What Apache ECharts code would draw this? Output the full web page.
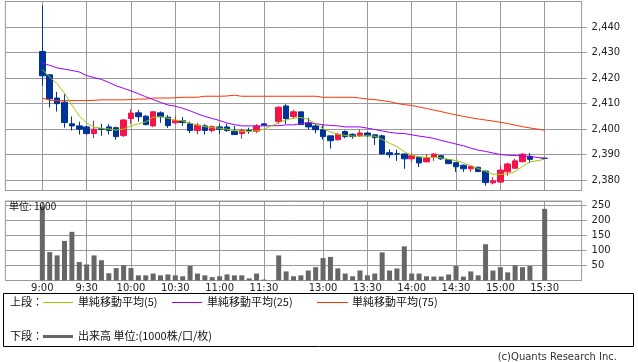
<!DOCTYPE html>
<html><head><meta charset="utf-8">
<script src="https://cdn.jsdelivr.net/npm/echarts@6/dist/echarts.min.js"></script>
<style>html,body{margin:0;padding:0;background:#fff}#c{width:638px;height:362px}</style>
</head><body><div id="c"></div>
<script>
// 5-minute slots, 9:00 .. 15:30 (lunch break shown as one empty slot)
const times = ['9:00','9:05','9:10','9:15','9:20','9:25','9:30','9:35','9:40','9:45','9:50','9:55',
 '10:00','10:05','10:10','10:15','10:20','10:25','10:30','10:35','10:40','10:45','10:50','10:55',
 '11:00','11:05','11:10','11:15','11:20','11:25','11:30','lunch',
 '12:30','12:35','12:40','12:45','12:50','12:55',
 '13:00','13:05','13:10','13:15','13:20','13:25','13:30','13:35','13:40','13:45','13:50','13:55',
 '14:00','14:05','14:10','14:15','14:20','14:25','14:30','14:35','14:40','14:45','14:50','14:55',
 '15:00','15:05','15:10','15:15','15:20','15:25','15:30'];
const open  = [2430.4,2421.3,2412.2,2410.6,2402.1,2401.3,2400.9,2398.3,2400.2,2400.9,2400.6,2397.5,
 2404.2,2406.4,2405.1,2401.3,2406.4,2404.7,2402.5,2403.3,2402.1,2399.5,2401.3,2399.5,
 2400.9,2400.9,2399.2,2398.3,2399.5,2399.2,2402.1,null,
 2403.0,2409.1,2405.0,2406.8,2402.5,2401.3,
 2399.8,2397.4,2395.9,2399.1,2398.0,2397.4,2398.5,2397.8,2397.4,2390.8,2390.4,2390.3,
 2388.4,2389.0,2387.2,2389.1,2389.6,2388.1,2386.9,2385.9,2384.5,2385.1,2383.6,2379.0,
 2379.3,2383.3,2384.7,2387.3,2389.4,null,2388.6];
const close = [2420.9,2411.9,2410.0,2402.6,2401.3,2400.0,2398.3,2400.0,2400.0,2399.5,2397.1,2403.6,
 2406.3,2404.9,2401.8,2406.8,2404.9,2401.4,2403.3,2402.6,2399.5,2401.6,2399.5,2401.0,
 2400.0,2399.5,2397.9,2399.5,2399.2,2401.2,2401.6,null,
 2408.6,2404.2,2406.8,2401.8,2400.9,2399.8,
 2397.1,2395.5,2398.0,2397.1,2397.1,2398.5,2397.4,2396.7,2390.3,2390.0,2390.3,2388.4,
 2389.6,2386.8,2388.7,2390.3,2388.4,2386.5,2385.3,2384.5,2385.5,2383.4,2379.1,2379.7,
 2384.0,2386.4,2387.6,2390.2,2388.2,null,2388.6];
const low   = [2417.0,2408.5,2406.9,2400.6,2399.5,2397.9,2397.8,2396.5,2397.4,2397.9,2395.9,2397.0,
 2402.1,2403.0,2401.5,2400.8,2402.5,2400.5,2402.0,2401.3,2398.4,2398.0,2397.9,2398.8,
 2398.2,2399.0,2397.8,2396.3,2398.2,2398.4,2401.6,null,
 2402.1,2402.1,2404.0,2401.8,2399.8,2398.4,
 2395.9,2392.4,2395.5,2396.5,2396.3,2397.1,2396.9,2393.8,2390.0,2388.8,2387.6,2384.5,
 2387.2,2385.2,2387.2,2387.6,2388.0,2386.5,2383.3,2383.3,2383.3,2383.2,2377.9,2378.4,
 2379.0,2381.7,2384.5,2387.0,2386.7,null,2388.6];
const high  = [2448.4,2421.3,2414.6,2413.7,2405.0,2402.9,2401.3,2403.3,2402.1,2402.0,2401.0,2404.0,
 2407.8,2407.6,2405.5,2407.0,2407.0,2405.5,2405.0,2404.8,2403.0,2402.5,2402.0,2401.5,
 2402.1,2402.1,2401.3,2400.2,2400.6,2402.0,2402.1,null,
 2409.0,2409.8,2407.6,2406.8,2404.5,2402.0,
 2401.5,2397.4,2398.6,2399.5,2398.4,2399.9,2398.9,2398.0,2397.8,2392.1,2392.0,2390.5,
 2390.5,2389.3,2390.3,2390.6,2389.8,2388.1,2386.9,2386.2,2385.8,2385.4,2383.8,2381.2,
 2385.7,2386.9,2388.5,2390.7,2390.7,null,2388.6];
const ma5   = [2423.3,2420.4,2417.8,2414.1,2409.5,2405.2,2402.4,2400.8,2400.4,2400.1,2399.7,2400.0,
 2401.3,2402.1,2402.9,2404.7,2404.9,2404.3,2403.6,2403.3,2402.4,2401.6,2401.0,2400.6,
 2400.4,2400.0,2399.5,2399.2,2399.1,2399.3,2400.0,null,
 2402.6,2403.6,2404.3,2404.6,2403.8,2402.2,
 2400.2,2398.9,2398.0,2397.6,2397.3,2397.3,2397.4,2397.3,2396.0,2394.5,2393.2,2391.2,
 2389.8,2389.2,2389.0,2388.9,2388.8,2388.2,2387.7,2386.9,2385.7,2384.6,2383.5,2382.4,
 2382.3,2382.5,2383.4,2385.4,2387.2,null,2388.2];
const ma25  = [2425.9,2425.0,2424.0,2423.5,2423.0,2422.4,2421.0,2420.2,2419.5,2418.3,2417.0,2416.0,
 2415.0,2413.9,2412.7,2411.6,2410.5,2409.5,2409.0,2408.2,2407.2,2406.0,2405.0,2404.2,
 2403.4,2402.4,2401.8,2401.3,2401.3,2401.3,2401.3,null,
 2401.4,2401.7,2401.7,2402.2,2402.4,2402.2,
 2401.7,2401.5,2401.3,2400.9,2400.9,2400.9,2400.4,2399.9,2399.3,2398.8,2398.4,2398.3,
 2397.8,2397.3,2396.9,2396.4,2395.6,2394.9,2394.2,2393.5,2392.6,2391.8,2391.3,2390.7,
 2390.1,2389.8,2389.7,2389.5,2389.3,null,2388.6];
const ma75  = [2412.2,2411.3,2411.2,2411.2,2411.2,2411.2,2411.2,2411.3,2411.5,2411.5,2411.5,2411.5,
 2411.6,2411.8,2411.8,2412.2,2412.2,2412.2,2412.3,2412.5,2412.5,2412.5,2412.9,2412.9,
 2412.9,2413.0,2413.3,2412.9,2412.9,2412.9,2412.9,null,
 2412.9,2412.9,2412.9,2412.9,2412.9,2412.9,
 2412.5,2412.5,2412.5,2412.5,2412.5,2412.2,2411.8,2411.6,2411.2,2410.8,2410.1,2409.6,
 2409.3,2408.7,2408.1,2407.5,2406.9,2406.2,2405.6,2405.0,2404.5,2404.0,2403.6,2403.2,
 2402.7,2402.2,2401.6,2401.0,2400.5,null,2399.6];
const volume = [245,94,83,131,161,61,53,83,67,24,41,50,
 41,17,17,23,17,20,17,14,48,23,17,11,
 14,20,17,17,7,23,3,null,
 83,30,14,17,33,44,
 74,78,40,23,14,33,17,23,93,33,40,113,
 23,23,14,13,13,20,48,13,30,17,120,33,
 44,27,50,44,48,null,237];
const tickLabels = ['9:00','9:30','10:00','10:30','11:00','11:30','13:00','13:30','14:00','14:30','15:00','15:30'];
const priceRange = [2376, 2450];
const volumeRange = [0, 263];

const PAD_L = 5, PAD_R = 5;
const cats = [];
for (let i = 0; i < PAD_L; i++) cats.push('pl' + i);
times.forEach(t => cats.push(t));
for (let i = 0; i < PAD_R; i++) cats.push('pr' + i);
function padded(arr, empty) {
  const out = [];
  for (let i = 0; i < PAD_L; i++) out.push(empty);
  arr.forEach(v => out.push(v));
  for (let i = 0; i < PAD_R; i++) out.push(empty);
  return out;
}
const candleData = padded(times.map((t, i) => open[i] == null ? ['-','-','-','-'] : [open[i], close[i], low[i], high[i]]), ['-','-','-','-']);
const isTick = (idx, val) => tickLabels.indexOf(val) >= 0;

const UP = '#f5134b', DOWN = '#003399';
const GRID = '#9a9a9a';
const NUMF = '"DejaVu Sans", sans-serif';
const JPF = '"Noto Sans CJK JP", sans-serif';

const chart = echarts.init(document.getElementById('c'), null, {renderer: 'canvas'});
const xCommon = {
  type: 'category', data: cats, boundaryGap: false,
  axisLine: {show: false}, axisTick: {show: false},
  splitLine: {show: true, interval: isTick, lineStyle: {color: GRID, width: 1}}
};
chart.setOption({
  animation: false,
  backgroundColor: '#ffffff',
  grid: [
    {left: 5.4, right: 56.4, top: 1.5, height: 189, show: true, borderColor: GRID, borderWidth: 1},
    {left: 5.4, right: 56.4, top: 201, height: 79.5, show: true, borderColor: GRID, borderWidth: 1}
  ],
  xAxis: [
    Object.assign({gridIndex: 0, axisLabel: {show: false}}, xCommon),
    Object.assign({gridIndex: 1, axisLabel: {show: true, interval: isTick, fontSize: 10, color: '#222', fontFamily: NUMF, margin: 3}}, xCommon)
  ],
  yAxis: [
    {gridIndex: 0, type: 'value', position: 'right', min: priceRange[0], max: priceRange[1],
     minInterval: 10, maxInterval: 10, scale: true,
     axisLine: {show: false}, axisTick: {show: true, length: 5, lineStyle: {color: GRID}},
     splitLine: {show: true, lineStyle: {color: GRID}},
     axisLabel: {showMinLabel: false, showMaxLabel: false, margin: 10, fontSize: 10, color: '#222', fontFamily: NUMF,
       formatter: v => (v % 10 === 0 && v < priceRange[1]) ? echarts.format.addCommas(v) : ''}},
    {gridIndex: 1, type: 'value', position: 'right', min: volumeRange[0], max: volumeRange[1],
     minInterval: 50, maxInterval: 50,
     axisLine: {show: false}, axisTick: {show: true, length: 5, lineStyle: {color: GRID}},
     splitLine: {show: true, lineStyle: {color: GRID}},
     axisLabel: {showMinLabel: false, showMaxLabel: false, margin: 10, fontSize: 10, color: '#222', fontFamily: NUMF,
       formatter: v => (v % 50 === 0) ? String(v) : ''}}
  ],
  series: [
    {type: 'candlestick', xAxisIndex: 0, yAxisIndex: 0, data: candleData, barWidth: 6,
     itemStyle: {color: UP, color0: DOWN, borderColor: UP, borderColor0: DOWN, borderWidth: 1}},
    {type: 'line', xAxisIndex: 0, yAxisIndex: 0, data: padded(ma75, null), symbol: 'none', connectNulls: true,
     lineStyle: {color: '#ff3300', width: 1}},
    {type: 'line', xAxisIndex: 0, yAxisIndex: 0, data: padded(ma25, null), symbol: 'none', connectNulls: true,
     lineStyle: {color: '#9900ff', width: 1}},
    {type: 'line', xAxisIndex: 0, yAxisIndex: 0, data: padded(ma5, null), symbol: 'none', connectNulls: true,
     lineStyle: {color: '#99cc00', width: 1}},
    {type: 'bar', xAxisIndex: 1, yAxisIndex: 1, data: padded(volume, null), barWidth: 5,
     itemStyle: {color: '#666666'}}
  ],
  graphic: [
    {type: 'text', left: 9, top: 201, z: 100, style: {text: '単位: 1000', fontSize: 10, fontFamily: JPF, fill: '#111'}},
    {type: 'rect', shape: {x: 3.5, y: 293.5, width: 630, height: 53}, style: {fill: 'none', stroke: '#000', lineWidth: 1}},
    {type: 'text', x: 10, y: 302, style: {text: '上段：', fontSize: 11, fontFamily: JPF, fill: '#111', verticalAlign: 'middle'}},
    {type: 'line', shape: {x1: 43, y1: 302.5, x2: 73, y2: 302.5}, style: {stroke: '#99cc00', lineWidth: 1}},
    {type: 'text', x: 78, y: 302, style: {text: '単純移動平均(5)', fontSize: 11, fontFamily: JPF, fill: '#111', verticalAlign: 'middle'}},
    {type: 'line', shape: {x1: 172, y1: 302.5, x2: 202, y2: 302.5}, style: {stroke: '#9900ff', lineWidth: 1}},
    {type: 'text', x: 207, y: 302, style: {text: '単純移動平均(25)', fontSize: 11, fontFamily: JPF, fill: '#111', verticalAlign: 'middle'}},
    {type: 'line', shape: {x1: 317, y1: 302.5, x2: 348, y2: 302.5}, style: {stroke: '#ff3300', lineWidth: 1}},
    {type: 'text', x: 352, y: 302, style: {text: '単純移動平均(75)', fontSize: 11, fontFamily: JPF, fill: '#111', verticalAlign: 'middle'}},
    {type: 'text', x: 10, y: 336, style: {text: '下段：', fontSize: 11, fontFamily: JPF, fill: '#111', verticalAlign: 'middle'}},
    {type: 'line', shape: {x1: 43, y1: 336.5, x2: 73, y2: 336.5}, style: {stroke: '#666666', lineWidth: 3}},
    {type: 'text', x: 78, y: 336, style: {text: '出来高 単位:(1000株/口/枚)', fontSize: 11, fontFamily: JPF, fill: '#111', verticalAlign: 'middle'}},
    {type: 'text', x: 617, y: 357, style: {text: '(c)Quants Research Inc.', fontSize: 10, fontFamily: NUMF, fill: '#333', align: 'right', verticalAlign: 'middle'}}
  ]
});
</script></body></html>
